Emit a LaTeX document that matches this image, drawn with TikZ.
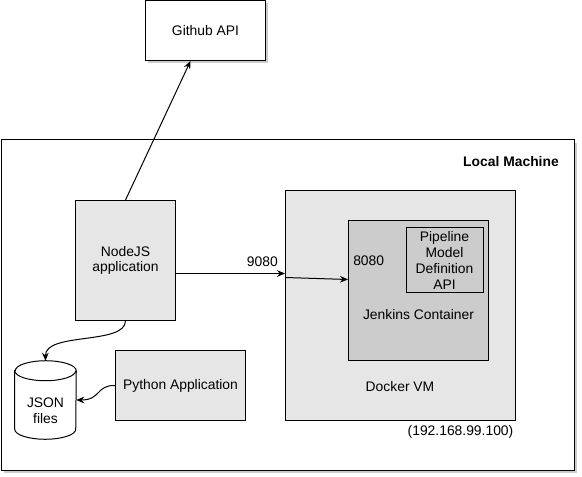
\documentclass[tikz,border=0pt]{standalone}
\usepackage{fontspec}
\setmainfont{Liberation Sans}
\usetikzlibrary{arrows.meta,shadows}
\definecolor{vmgray}{RGB}{230,230,230}
\definecolor{boxgray}{RGB}{204,204,204}

\begin{document}
\begin{tikzpicture}[
    x=0.75pt, y=-0.75pt,
    every node/.style={font=\fontsize{10.4}{11.8}\selectfont},
    box/.style={rectangle, draw, line width=0.75pt, fill=vmgray, align=center, inner sep=0pt},
    darkbox/.style={box, fill=boxgray},
    shadebox/.style={box, fill=white, drop shadow={shadow xshift=2pt, shadow yshift=-2pt, opacity=0.2, fill=black}},
    arrow/.style={-{Stealth[length=6pt, width=5pt]}, line width=0.75pt}
]
    \useasboundingbox (0,0) rectangle (582,477);
    \node[shadebox, minimum width=90pt, minimum height=45pt] (github) at (205.5,30.5) {Github API};
    \node[shadebox, minimum width=429.75pt, minimum height=247.5pt] (local) at (287.5,305) {};
    \node[font=\fontsize{10.4}{11.8}\selectfont\bfseries, inner sep=0pt] (locallbl) at (511,162) {Local Machine};

    \node[box, minimum width=172.5pt, minimum height=172.5pt] (docker) at (400.5,305.5) {};
    \node[inner sep=0pt] (dockerlbl) at (400,387) {Docker VM};
    \node[inner sep=0pt] (iplbl) at (460.5,432) {(192.168.99.100)};
    \node[darkbox, minimum width=105pt, minimum height=105pt] (jenkins) at (418.5,290.5) {};
    \node[inner sep=0pt] (jenkinslbl) at (418.5,315) {Jenkins Container};
    \node[darkbox, minimum width=57.75pt, minimum height=48.75pt] (pipeline) at (444.5,260.5) {Pipeline\\Model\\Definition\\API};
    \node[anchor=south west, inner sep=0pt] (jport) at (353,266) {8080};

    \node[box, minimum width=75pt, minimum height=90pt] (nodejs) at (125.5,260.5) {NodeJS\\application};
    \node[box, minimum width=97.5pt, minimum height=52.5pt] (python) at (180.5,385.5) {Python Application};
    \node[minimum width=45.75pt, minimum height=58.5pt, inner sep=0pt] (json) at (45.5,400) {};
    \draw[line width=0.75pt, fill=white] ([yshift=-7.5pt]json.north west) -- ([yshift=7.5pt]json.south west)
        arc[start angle=180, end angle=360, x radius=22.875pt, y radius=7.5pt]
        -- ([yshift=-7.5pt]json.north east)
        arc[start angle=0, end angle=180, x radius=22.875pt, y radius=7.5pt] -- cycle;
    \draw[line width=0.75pt] ([yshift=-7.5pt]json.north west)
        arc[start angle=180, end angle=360, x radius=22.875pt, y radius=7.5pt];
    \node[align=center, inner sep=0pt] (jsonlbl) at (45.5,411) {JSON\\files};

    \draw[arrow] (nodejs.north) -- ([xshift=-11.25pt]github.south);
    \draw[arrow] ([yshift=-9.75pt]nodejs.east) -- ([yshift=-9.75pt]nodejs.east -| docker.west)
        node[pos=1, anchor=south east, inner sep=0pt, xshift=-5pt, yshift=5pt] (vmport) {9080};
    \draw[arrow] ([yshift=21pt]docker.west) -- ([yshift=8.25pt]jenkins.west);
    \draw[arrow] (nodejs.south) .. controls (125,345) and (45,332) .. (json.north);
    \draw[arrow] (python.west) .. controls (96,385) and (101,400) .. (json.east);
\end{tikzpicture}
\end{document}
